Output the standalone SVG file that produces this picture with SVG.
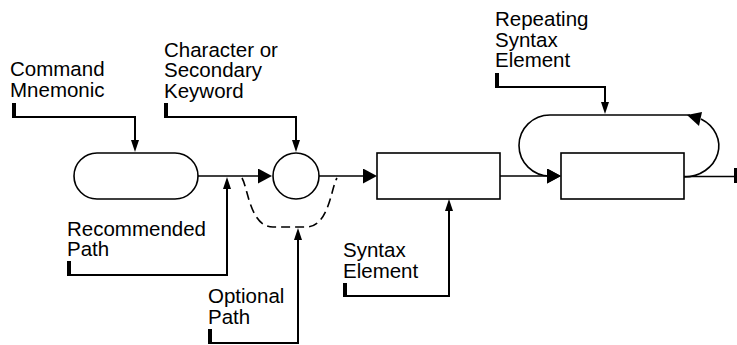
<svg xmlns="http://www.w3.org/2000/svg" width="737" height="345" viewBox="0 0 737 345">
<style>
.t{font-family:"Liberation Sans",Arial,sans-serif;font-size:20.5px;fill:#000}
.s{fill:none;stroke:#000;stroke-width:1.6}
.l{fill:none;stroke:#000;stroke-width:2}
.d{fill:none;stroke:#000;stroke-width:1.6;stroke-dasharray:9,5}
.f{fill:#000;stroke:none}
</style>
<defs>
<marker id="a" markerWidth="12" markerHeight="8" refX="9" refY="4" orient="auto" markerUnits="userSpaceOnUse"><path d="M0,0 L12,4 L0,8 z" fill="#000"/></marker>
<marker id="b" markerWidth="14" markerHeight="15" refX="11" refY="7.5" orient="auto" markerUnits="userSpaceOnUse"><path d="M0,0 L14,7.5 L0,15 z" fill="#000"/></marker>
</defs>
<rect width="737" height="345" fill="#fff"/>

<g id="connectors">
<path class="s" d="M198,176 H269" marker-end="url(#b)"/>
<path class="s" d="M319,176 H374" marker-end="url(#b)"/>
<path class="s" d="M500,176 H558" marker-end="url(#b)"/>
<path class="d" d="M242,178 C248,188 250,227 273,227 L306,227 C329,227 331,188 337,178"/>
<path class="s" d="M550,115 H690"/>
<path class="s" d="M550,115 A31,30.5 0 0 0 550,176 H558" marker-end="url(#b)"/>
<path class="s" d="M684,177 A35,31 0 0 0 701,119"/>
<polygon class="f" points="687,115 702,112 699,126"/>
<path class="s" d="M684,176.5 H735"/>
<rect class="f" x="734" y="168" width="3" height="15"/>
</g>

<g id="mnemonic">
<rect class="s" x="74" y="153" width="124" height="46" rx="23"/>
</g>
<g id="character">
<circle class="s" cx="296" cy="176" r="23"/>
</g>
<g id="syntax-element">
<rect class="s" x="377" y="153" width="123" height="46"/>
</g>
<g id="repeating-element">
<rect class="s" x="561" y="153" width="123" height="46"/>
</g>

<g id="label-command">
<text class="t" x="10" y="76">Command</text>
<text class="t" x="10" y="97">Mnemonic</text>
<rect class="f" x="12" y="103" width="4" height="15"/>
<path class="l" d="M14,117 H135 V149" marker-end="url(#a)"/>
</g>
<g id="label-character">
<text class="t" x="164" y="56.5">Character or</text>
<text class="t" x="164" y="77">Secondary</text>
<text class="t" x="164" y="97.5">Keyword</text>
<rect class="f" x="164" y="103" width="4" height="15"/>
<path class="l" d="M166,117 H296 V149" marker-end="url(#a)"/>
</g>
<g id="label-recommended">
<text class="t" x="67" y="235.5">Recommended</text>
<text class="t" x="67" y="255.5">Path</text>
<rect class="f" x="67" y="261" width="4" height="15"/>
<path class="l" d="M69,275 H227 V180" marker-end="url(#a)"/>
</g>
<g id="label-optional">
<text class="t" x="208" y="302.5">Optional</text>
<text class="t" x="208" y="323.5">Path</text>
<rect class="f" x="208" y="329" width="4" height="15"/>
<path class="l" d="M210,343 H298 V231" marker-end="url(#a)"/>
</g>
<g id="label-syntax">
<text class="t" x="343" y="256.5">Syntax</text>
<text class="t" x="343" y="277.5">Element</text>
<rect class="f" x="343" y="283" width="4" height="14"/>
<path class="l" d="M345,296 H449 V202" marker-end="url(#a)"/>
</g>
<g id="label-repeating">
<text class="t" x="495" y="25.7">Repeating</text>
<text class="t" x="495" y="46.5">Syntax</text>
<text class="t" x="495" y="67.3">Element</text>
<rect class="f" x="495" y="73" width="4" height="15"/>
<path class="l" d="M497,87 H605 V111" marker-end="url(#a)"/>
</g>
</svg>
